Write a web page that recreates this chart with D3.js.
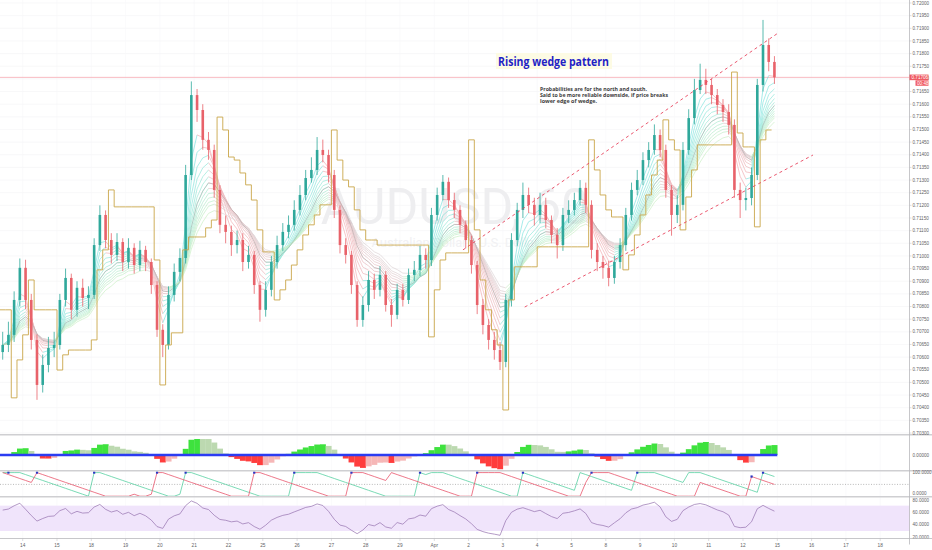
<!DOCTYPE html>
<html><head><meta charset="utf-8">
<script src="https://cdn.jsdelivr.net/npm/d3@7"></script>
<style>html,body{margin:0;padding:0;background:#fff;overflow:hidden}</style>
</head><body><svg id="c" width="932" height="550"></svg>
<script>
// ---------------- DATA ----------------
const dayLabels = ["14","15","18","19","20","21","22","25","26","27","28","29","Apr","2","3","4","5","8","9","10","11","12","15","16","17","18"];
const barsPerDay = 6;          // 4-hour bars
const firstBarOffset = -4;     // first visible bar sits 4 bars before day "14"
const firstOpen = 0.70620;
const closes = [
0.70648,0.70688,0.70826,0.70953,0.70826,0.70668,0.70490,0.70569,0.70636,0.70648,
0.70826,0.70913,0.70787,0.70874,0.70834,0.70846,0.71043,0.71162,0.71063,0.71004,
0.71055,0.70976,0.71032,0.70964,0.71024,0.70976,0.70885,0.70708,0.70648,0.70846,
0.70937,0.70992,0.71320,0.71636,0.71577,0.71459,0.71419,0.71261,0.71123,0.71095,
0.71043,0.71063,0.70976,0.71004,0.70885,0.70787,0.70866,0.70976,0.71043,0.71095,
0.71123,0.71182,0.71241,0.71308,0.71340,0.71419,0.71399,0.71320,0.71182,0.71043,
0.71004,0.70885,0.70747,0.70806,0.70905,0.70866,0.70925,0.70806,0.70767,0.70866,
0.70826,0.70925,0.70945,0.71004,0.70984,0.71162,0.71241,0.71293,0.71221,0.71182,
0.71123,0.71063,0.70964,0.70806,0.70727,0.70668,0.70628,0.70581,0.70826,0.71063,
0.71182,0.71241,0.71202,0.71162,0.71202,0.71142,0.71083,0.71043,0.71162,0.71182,
0.71221,0.71269,0.71202,0.71024,0.70976,0.70953,0.70913,0.70976,0.71043,0.71162,
0.71261,0.71300,0.71379,0.71419,0.71478,0.71419,0.71261,0.71162,0.71202,0.71419,
0.71545,0.71656,0.71696,0.71676,0.71636,0.71597,0.71569,0.71518,0.71261,0.71221,
0.71229,0.71320,0.71676,0.71834,0.71767,0.71706];
const highs = [
0.70700,0.70740,0.70860,0.70990,0.70985,0.70850,0.70690,0.70610,0.70680,0.70700,
0.70850,0.70950,0.70930,0.70900,0.70910,0.70880,0.71070,0.71200,0.71180,0.71090,
0.71090,0.71070,0.71070,0.71050,0.71060,0.71040,0.70990,0.70900,0.70730,0.70880,
0.70970,0.71030,0.71360,0.71690,0.71660,0.71600,0.71490,0.71440,0.71280,0.71160,
0.71120,0.71100,0.71090,0.71040,0.71020,0.70900,0.70900,0.71000,0.71080,0.71130,
0.71160,0.71220,0.71280,0.71340,0.71390,0.71470,0.71460,0.71420,0.71340,0.71200,
0.71070,0.71020,0.70900,0.70840,0.70940,0.70930,0.70960,0.70940,0.70830,0.70890,
0.70890,0.70950,0.70980,0.71040,0.71030,0.71190,0.71270,0.71320,0.71310,0.71250,
0.71200,0.71140,0.71080,0.70980,0.70830,0.70750,0.70700,0.70660,0.70850,0.71090,
0.71210,0.71290,0.71270,0.71230,0.71250,0.71230,0.71160,0.71110,0.71190,0.71220,
0.71250,0.71300,0.71290,0.71220,0.71050,0.71000,0.70980,0.71000,0.71070,0.71190,
0.71290,0.71340,0.71410,0.71450,0.71520,0.71500,0.71440,0.71280,0.71240,0.71450,
0.71580,0.71700,0.71760,0.71740,0.71700,0.71660,0.71620,0.71600,0.71540,0.71290,
0.71270,0.71350,0.71700,0.71933,0.71860,0.71790];
const lows = [
0.70590,0.70620,0.70660,0.70800,0.70790,0.70630,0.70431,0.70460,0.70540,0.70600,
0.70630,0.70800,0.70750,0.70760,0.70800,0.70790,0.70830,0.71020,0.71030,0.70970,
0.70980,0.70940,0.70950,0.70930,0.70940,0.70940,0.70850,0.70680,0.70600,0.70630,
0.70820,0.70900,0.70970,0.71300,0.71530,0.71420,0.71380,0.71230,0.71090,0.71050,
0.71000,0.71010,0.70940,0.70950,0.70850,0.70740,0.70760,0.70840,0.70950,0.71020,
0.71070,0.71100,0.71160,0.71220,0.71290,0.71320,0.71370,0.71290,0.71150,0.71010,
0.70970,0.70850,0.70720,0.70720,0.70780,0.70830,0.70840,0.70780,0.70720,0.70750,
0.70800,0.70810,0.70900,0.70920,0.70950,0.70960,0.71140,0.71220,0.71190,0.71150,
0.71090,0.71030,0.70930,0.70770,0.70690,0.70630,0.70590,0.70549,0.70560,0.70800,
0.71040,0.71150,0.71170,0.71120,0.71130,0.71110,0.71050,0.70990,0.71020,0.71130,
0.71160,0.71200,0.71170,0.70990,0.70940,0.70910,0.70880,0.70890,0.70950,0.71020,
0.71140,0.71240,0.71280,0.71350,0.71400,0.71390,0.71230,0.71080,0.71130,0.71180,
0.71400,0.71520,0.71640,0.71640,0.71600,0.71560,0.71530,0.71480,0.71230,0.71150,
0.71180,0.71200,0.71300,0.71650,0.71730,0.71680];
// trailing-stop indicator (olive line), one value per bar
const trailStop = [
0.70787,0.70787,0.70439,0.70589,0.70688,0.70905,0.70787,0.70787,0.70787,0.70787,
0.70549,0.70609,0.70628,0.70628,0.70628,0.70628,0.70668,0.70945,0.71024,0.71261,
0.71194,0.71194,0.71194,0.71194,0.71194,0.71194,0.71194,0.70984,0.70490,0.70648,
0.70696,0.70696,0.71024,0.71075,0.71075,0.71075,0.71111,0.71142,0.71549,0.71498,
0.71391,0.71379,0.71328,0.71281,0.71221,0.71103,0.71016,0.71016,0.70826,0.70866,
0.70905,0.70964,0.71024,0.71083,0.71123,0.71162,0.71202,0.71202,0.71498,0.71379,
0.71300,0.71273,0.71182,0.71103,0.71063,0.71063,0.71043,0.71043,0.71043,0.71043,
0.71043,0.71043,0.71043,0.71043,0.71043,0.70680,0.70866,0.70984,0.71012,0.71012,
0.71012,0.71012,0.71459,0.71103,0.70905,0.70787,0.70708,0.70648,0.70391,0.70826,
0.70957,0.70957,0.70957,0.70957,0.71036,0.71036,0.71036,0.71036,0.71036,0.71036,
0.71036,0.71036,0.71036,0.71459,0.71340,0.71241,0.71182,0.71154,0.71154,0.70945,
0.71004,0.71083,0.71162,0.71241,0.71320,0.71379,0.71538,0.71459,0.71419,0.71103,
0.71233,0.71340,0.71439,0.71439,0.71439,0.71439,0.71439,0.71439,0.71727,0.71486,
0.71431,0.71431,0.71115,0.71459,0.71498,0.71498];
const priceMin = 0.70300, priceMax = 0.72000, priceStep = 0.0005;
const lastPrice = 0.71706;
const lastPriceLabel = "0.71706";
const countdownLabel = "00:48";
const oscLabels = ["0.00000"];
const aroonLabels = ["100.0000","0.0000"];
const rsiLabels = [80,60,40,20];
const wedgeUpper = [{d:12.836,p:0.71024},{d:22.02,p:0.71881}];
const wedgeLower = [{d:14.636,p:0.70798},{d:23.04,p:0.71399}];
const titleText = "Rising wedge pattern";
const noteLines = ["Probabilities are for the north and south.",
  "Said to be more reliable downside, if price breaks","lower edge of wedge."];
const watermark = "AUDUSD, 60";
const watermarkSub = "Australian Dollar / U.S. Dollar";
const emaLengths = [3,4,5,6,7,8,9,10,11,12,13,14,16];

// ---------------- LAYOUT ----------------
const W = 932, H = 550, plotR = 909.5;
const main = {top:3, bottom:433};
const sepY = [434.7, 470.7, 496.7];
const axisY = 538.5;
const svg = d3.select("#c");
const font = "'Liberation Sans', Arial, sans-serif";

const x = d3.scaleLinear().domain([0, 25]).range([22.7, 880.2]);
const y = d3.scaleLinear().domain([priceMin, priceMax]).range([main.bottom, main.top]);
const N = closes.length;
const bars = closes.map((c,i)=>({
  i, d:(firstBarOffset + i + 0.5)/barsPerDay,
  o: i===0 ? firstOpen : closes[i-1], h: highs[i], l: lows[i], c
}));
const bx = b => x(b.d);
const stepW = x(1/barsPerDay)-x(0);

// ---------------- INDICATORS (computed from the bars) ----------------
function ema(arr, n){ const k=2/(n+1); const out=[]; arr.forEach((v,i)=>out.push(i===0?v:v*k+out[i-1]*(1-k))); return out; }
const eF = ema(closes,4), eS = ema(closes,11);
const osc = ema(closes.map((c,i)=> eF[i]-eS[i]),2);
const aroonN = 12;
const aUp=[], aDn=[];
bars.forEach((b,i)=>{
  const s=Math.max(0,i-aroonN); let hi=s, lo=s;
  for(let j=s;j<=i;j++){ if(bars[j].h>=bars[hi].h) hi=j; if(bars[j].l<=bars[lo].l) lo=j; }
  aUp.push(100*(aroonN-(i-hi))/aroonN); aDn.push(100*(aroonN-(i-lo))/aroonN);
});
const rsiN = 9; const rsi=[]; let ag=0, al=0;
closes.forEach((c,i)=>{
  const ch = i===0 ? c-firstOpen : c-closes[i-1];
  const g=Math.max(ch,0), l=Math.max(-ch,0);
  if(i===0){ ag=g+0.0004; al=l+0.0004; } else { ag=(ag*(rsiN-1)+g)/rsiN; al=(al*(rsiN-1)+l)/rsiN; }
  rsi.push(al===0?100:100-100/(1+ag/al));
});

// ---------------- DRAW ----------------
const defs = svg.append("defs");
defs.append("clipPath").attr("id","mclip").append("rect").attr("x",0).attr("y",0).attr("width",plotR).attr("height",434);
defs.append("clipPath").attr("id","pclip").append("rect").attr("x",0).attr("y",0).attr("width",plotR).attr("height",H);
defs.append("clipPath").attr("id","rclip").append("rect").attr("x",0).attr("y",497.5).attr("width",plotR).attr("height",40.5);

const priceTicks = d3.range(priceMin, priceMax + priceStep/2, priceStep);
svg.append("g").selectAll("line").data(priceTicks).join("line")
  .attr("x1",0).attr("x2",plotR).attr("y1",d=>y(d)).attr("y2",d=>y(d))
  .attr("stroke","#f3f3f5").attr("stroke-width",0.6);
svg.append("g").selectAll("line").data(dayLabels).join("line")
  .attr("x1",(d,i)=>x(i)).attr("x2",(d,i)=>x(i)).attr("y1",0).attr("y2",axisY)
  .attr("stroke","#f6f6f8").attr("stroke-width",0.6);

const mg = svg.append("g").attr("clip-path","url(#mclip)");
mg.append("text").attr("x",455).attr("y",224).attr("text-anchor","middle")
  .attr("font-family","'Roboto', sans-serif").attr("font-size",50).attr("fill","#eeeef0").text(watermark);
mg.append("text").attr("x",455).attr("y",247).attr("text-anchor","middle")
  .attr("font-family","'Roboto', sans-serif").attr("font-size",13).attr("fill","#f1f1f3").text(watermarkSub);

mg.append("line").attr("x1",0).attr("x2",plotR).attr("y1",y(lastPrice)).attr("y2",y(lastPrice))
  .attr("stroke","#f7b3ba").attr("stroke-width",0.9);

// ribbon
const riseC = d3.interpolateRgb("#3ad6d2","#b0e8a8");
const fallC = d3.interpolateRgb("#f08088","#cdbfc2");
const ribbonG = mg.append("g").attr("stroke-width",0.75).attr("opacity",0.6);
emaLengths.forEach((n,k)=>{
  const e = ema(closes,n), t = k/(emaLengths.length-1);
  const segs = d3.range(1,N).map(i=>({i, a:e[i-1], b:e[i]}));
  ribbonG.append("g").selectAll("line").data(segs).join("line")
    .attr("x1",s=>bx(bars[s.i-1])).attr("x2",s=>bx(bars[s.i]))
    .attr("y1",s=>y(s.a)).attr("y2",s=>y(s.b))
    .attr("stroke",s=> s.b>=s.a ? riseC(t) : fallC(t));
});
mg.append("path").datum(ema(closes,9)).attr("fill","none").attr("stroke","#9a9a9a").attr("stroke-width",0.7).attr("opacity",0.6)
  .attr("d", d3.line().x((v,i)=>bx(bars[i])).y(v=>y(v)));

// candles
const upCol="#2fa89b", dnCol="#e8626a";
const cg = mg.append("g");
cg.selectAll("line").data(bars).join("line")
  .attr("x1",bx).attr("x2",bx).attr("y1",b=>y(b.h)).attr("y2",b=>y(b.l))
  .attr("stroke",b=>b.c>=b.o?upCol:dnCol).attr("stroke-width",0.8);
cg.selectAll("rect").data(bars).join("rect")
  .attr("x",b=>bx(b)-1.3).attr("width",2.6)
  .attr("y",b=>y(Math.max(b.o,b.c))).attr("height",b=>Math.max(0.8, Math.abs(y(b.o)-y(b.c))))
  .attr("fill",b=>b.c>=b.o?upCol:dnCol);

// trailing stop line
mg.append("path").datum(trailStop).attr("fill","none")
  .attr("stroke","#c9a64a").attr("stroke-width",0.9)
  .attr("d", d3.line().curve(d3.curveStepAfter).x((v,i)=>bx(bars[i])-stepW/2).y(v=>y(v)));

// wedge lines
[wedgeUpper, wedgeLower].forEach(wl=>{
  mg.append("line").attr("x1",x(wl[0].d)).attr("y1",y(wl[0].p)).attr("x2",x(wl[1].d)).attr("y2",y(wl[1].p))
    .attr("stroke","#e8455f").attr("stroke-width",0.9).attr("stroke-dasharray","3,3");
});

// title & note
svg.append("rect").attr("x",496).attr("y",53).attr("width",116).attr("height",16).attr("fill","#fdfbe4");
svg.append("text").attr("x",498).attr("y",66).attr("font-family","'Open Sans', sans-serif").attr("font-weight",700)
  .attr("font-size",11.5).attr("fill","#1f1fc6").attr("textLength",111).attr("lengthAdjust","spacingAndGlyphs").text(titleText);
const noteW = [107,128,57];
noteLines.forEach((t,i)=>{
  svg.append("text").attr("x",540).attr("y",90.5+i*6.2).attr("font-family","'Open Sans', sans-serif").attr("font-weight",700)
    .attr("font-size",5.0).attr("fill","#3d3d3d").attr("textLength",noteW[i]).attr("lengthAdjust","spacingAndGlyphs").text(t);
});

// ---- oscillator pane
const oscZero = 455;
const oMax = d3.max(osc, v=>Math.abs(v));
const yo = d3.scaleLinear().domain([-oMax*0.8,oMax*0.8]).range([oscZero+16, oscZero-16]).clamp(true);
const og = svg.append("g").attr("clip-path","url(#pclip)");
og.selectAll("rect").data(osc).join("rect")
  .attr("x",(v,i)=>bx(bars[i])-stepW/2).attr("width",stepW+0.2)
  .attr("y",v=>Math.min(yo(v),yo(0))).attr("height",v=>Math.abs(yo(v)-yo(0)))
  .attr("fill",(v,i)=>{ const prev=i?osc[i-1]:v; if(v>=0) return v>=prev?"#3ee23e":"#bcd9b0"; return v<=prev?"#ff3d3d":"#f6b7b7"; });
og.append("line").attr("x1",bx(bars[0])-stepW/2).attr("x2",bx(bars[N-1])+stepW/2).attr("y1",oscZero).attr("y2",oscZero)
  .attr("stroke","#2b3cf2").attr("stroke-width",2.4);

// ---- aroon pane
const ya = d3.scaleLinear().domain([0,100]).range([496.2,472.6]);
svg.append("line").attr("x1",0).attr("x2",plotR).attr("y1",ya(50)).attr("y2",ya(50))
  .attr("stroke","#8a8a8a").attr("stroke-width",0.6).attr("stroke-dasharray","1,1.6");
const aLine = d3.line().x((v,i)=>bx(bars[i])).y(v=>ya(v));
svg.append("path").datum(aUp).attr("fill","none").attr("stroke","#58d0a2").attr("stroke-width",0.8).attr("d",aLine);
svg.append("path").datum(aDn).attr("fill","none").attr("stroke","#e8566c").attr("stroke-width",0.8).attr("d",aLine);
const cross=[];
for(let i=1;i<N;i++){
  const p=aUp[i-1]-aDn[i-1], q=aUp[i]-aDn[i];
  if(p<=0 && q>0) cross.push({i,v:aUp[i]}); else if(p>=0 && q<0) cross.push({i,v:aDn[i]});
}
svg.append("g").selectAll("rect").data(cross).join("rect")
  .attr("x",c=>bx(bars[c.i])-1.1).attr("y",c=>ya(c.v)-1.1).attr("width",2.2).attr("height",2.2).attr("fill","#2a36c4");

// ---- rsi pane
const yr = d3.scaleLinear().domain([20,80]).range([537.3,499.3]);
svg.append("rect").attr("x",0).attr("width",plotR).attr("y",yr(70)).attr("height",yr(30)-yr(70)).attr("fill","#f0e4fb");
svg.append("path").datum(rsi).attr("clip-path","url(#rclip)").attr("fill","none").attr("stroke","#9370ad").attr("stroke-width",0.7)
  .attr("d", d3.line().x((v,i)=>bx(bars[i])).y(v=>yr(v)));

// separators
svg.append("g").selectAll("line").data(sepY).join("line")
  .attr("x1",0).attr("x2",W).attr("y1",d=>d).attr("y2",d=>d).attr("stroke","#cfcfd2").attr("stroke-width",1.6);

// right axis
svg.append("line").attr("x1",plotR).attr("x2",plotR).attr("y1",0).attr("y2",axisY+6).attr("stroke","#b9b9bd").attr("stroke-width",0.8);
const ax = svg.append("g").attr("font-family",font).attr("font-size",4.6).attr("fill","#5f5f66");
priceTicks.forEach(p=>{
  ax.append("line").attr("x1",plotR).attr("x2",plotR+2).attr("y1",y(p)).attr("y2",y(p)).attr("stroke","#b9b9bd").attr("stroke-width",0.5);
  ax.append("text").attr("x",plotR+3).attr("y",y(p)+1.6).text(p.toFixed(5));
});
ax.append("text").attr("x",plotR+3).attr("y",oscZero+1.6).text(oscLabels[0]);
ax.append("text").attr("x",plotR+3).attr("y",ya(100)+1.6).text(aroonLabels[0]);
ax.append("text").attr("x",plotR+3).attr("y",ya(0)-0.8).text(aroonLabels[1]);
rsiLabels.forEach(v=> ax.append("text").attr("x",plotR+3).attr("y",yr(v)+1.6+(v===80?0.8:0)).text(v.toFixed(4)));
svg.append("rect").attr("x",plotR).attr("y",y(lastPrice)-2.8).attr("width",19).attr("height",5.6).attr("fill","#ef5a62");
svg.append("text").attr("x",plotR+2).attr("y",y(lastPrice)+1.6).attr("font-family",font).attr("font-size",4.6).attr("fill","#fff").text(lastPriceLabel);
svg.append("rect").attr("x",915.5).attr("y",y(lastPrice)+3).attr("width",13).attr("height",5.4).attr("fill","#ef5a62");
svg.append("text").attr("x",917).attr("y",y(lastPrice)+7.3).attr("font-family",font).attr("font-size",4.6).attr("fill","#fff").text(countdownLabel);

// bottom axis
svg.append("line").attr("x1",0).attr("x2",W).attr("y1",axisY).attr("y2",axisY).attr("stroke","#b9b9bd").attr("stroke-width",0.8);
const bxg = svg.append("g").attr("font-family",font).attr("font-size",4.8).attr("fill","#5f5f66").attr("text-anchor","middle");
dayLabels.forEach((lab,i)=>{
  bxg.append("line").attr("x1",x(i)).attr("x2",x(i)).attr("y1",axisY).attr("y2",axisY+2.5).attr("stroke","#b9b9bd").attr("stroke-width",0.5);
  bxg.append("text").attr("x",x(i)).attr("y",547).text(lab);
});
</script></body></html>
